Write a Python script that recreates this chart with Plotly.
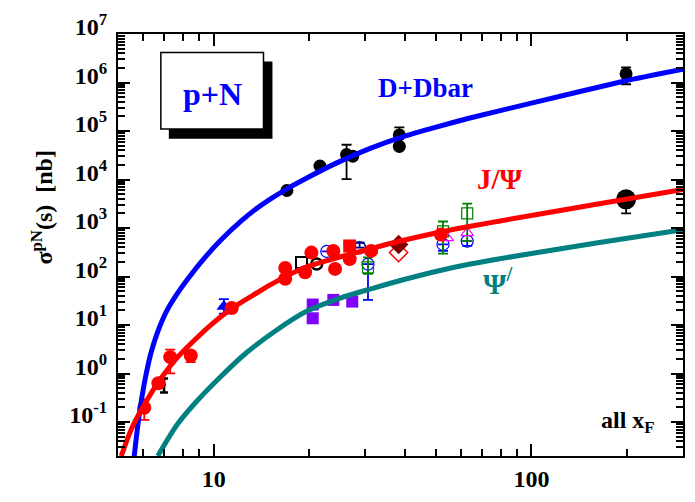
import plotly.graph_objects as go

# ---------------- model curves: sqrt(s) [GeV] vs sigma [nb] ----------------
dd_curve_s = [5.623, 5.788, 5.957, 6.131, 6.355, 6.683, 7.079, 7.608, 8.356, 9.306,
              10.52, 12.14, 13.53, 15.07, 16.91, 19.11, 24.41, 30.95, 39.25, 50.12,
              63.55, 100.0, 196.6, 300.0]
dd_curve_sig = [0.0196, 0.1, 0.351, 0.977, 2.718, 7.564, 18.31, 40.37, 95.45, 231.0,
                559.2, 1353, 2420, 3945, 6281, 9770, 22040, 43290, 75640, 120400,
                183000, 376500, 1.072e6, 1.874e6]

jpsi_curve_s = [5.12, 5.51, 6.05, 6.83, 7.70, 8.68, 9.79, 11.44, 13.70, 15.07, 19.1,
                24.4, 30.9, 38.4, 50.0, 63.6, 78.8, 161.8, 300.0]
jpsi_curve_sig = [0.02, 0.0723, 0.231, 0.80, 2.18, 4.82, 10.0, 22.4, 46.4, 67.3, 148,
                  242, 368, 533, 792, 1072, 1383, 3126, 6280]

psi2_curve_s = [6.67, 7.70, 8.89, 10.5, 12.6, 15.8, 19.6, 24.9, 31.7, 40.3, 51.2,
                63.6, 78.8, 161.8, 300.0]
psi2_curve_sig = [0.02, 0.091, 0.278, 0.85, 2.59, 7.92, 19.2, 35.6, 57.3, 89.0, 132,
                  179, 231, 498, 925]

# ---------------- data ----------------
# open charm (D + Dbar)
dd_s = [17.0, 21.6, 26.2, 27.4, 38.4, 38.4, 198.6]
dd_sig = [5940, 19000, 32700, 30300, 83000, 48200, 1.51e6]
dd_up = [0, 0, 19400, 0, 36000, 0, 5.5e5]
dd_dn = [0, 0, 22460, 0, 0, 0, 5.9e5]

# J/Psi, filled red circles
jp_s = [6.05, 6.70, 7.30, 8.47, 11.4, 16.8, 16.8, 19.4, 20.3, 23.8, 24.1, 26.8, 31.3, 51.9]
jp_sig = [0.198, 0.634, 2.18, 2.36, 22.4, 151, 90, 123, 312, 338, 144, 229, 338, 733]
jp_up = [0.096, 0, 0.95, 0, 0, 0, 0, 0, 0, 0, 0, 0, 0, 0]
jp_dn = [0.087, 0, 1.17, 0.63, 0, 0, 0, 0, 0, 0, 0, 0, 0, 0]

# J/Psi, filled red square
jpsq_s = [26.8]
jpsq_sig = [427]

# J/Psi, black points
jpb_s = [198.6]
jpb_sig = [3900]
jpb_dn = [1890]
jpbsq_s = [18.9]
jpbsq_sig = [196]
jpbc_s = [21.1]
jpbc_sig = [181]
jpbe_s = [6.98]
jpbe_sig = [0.586]
jpbe_up = [0.21]
jpbe_dn = [0.18]

# J/Psi, blue filled triangle
jptri_s = [10.77]
jptri_sig = [24.2]
jptri_up = [10]
jptri_dn = [7]

# J/Psi, open blue circles
jpoc_s = [22.7, 30.6, 52.7, 62.8]
jpoc_sig = [330, 181, 460, 538]
jpoc_up = [0, 0, 0, 0]
jpoc_dn = [0, 148, 122, 111]

# J/Psi, navy open circle
jpnv_s = [28.8]
jpnv_sig = [394]
jpnv_up = [104]

# J/Psi, open green squares
jpgs_s = [30.6, 52.7, 62.8]
jpgs_sig = [155, 857, 2010]
jpgs_up = [93, 507, 1190]
jpgs_dn = [41, 559, 1472]

# J/Psi, open magenta triangles
jpmt_s = [54.3, 62.8]
jpmt_sig = [628, 792]

# J/Psi, diamonds
jpdm_s = [38.2]
jpdm_sig = [460]
jpdo_s = [38.2]
jpdo_sig = [312]

# Psi', filled purple squares
psi_s = [20.5, 20.5, 23.8, 27.3]
psi_sig = [26.5, 13.8, 33.0, 30.5]

# axis ticks
x_major = [10, 100]
x_major_text = ["10", "100"]
x_minor = [6, 7, 8, 9, 20, 30, 40, 50, 60, 70, 80, 90, 200]
y_major = [10.0 ** k for k in range(-1, 8)]
y_major_text = ["10<sup>%d</sup>" % k for k in range(-1, 8)]
y_minor = [m * 10.0 ** k for k in range(-2, 7) for m in range(2, 10)]

SERIF = "Liberation Serif"

fig = go.Figure()


def errs(up, dn, color, width=5, thick=1.8):
    return dict(type="data", symmetric=False, array=up, arrayminus=dn,
                color=color, width=width, thickness=thick)


fig.add_trace(go.Scatter(x=psi_s, y=psi_sig, mode="markers",
                         marker=dict(symbol="square", size=12, color="#8000ff")))
fig.add_trace(go.Scatter(x=dd_s, y=dd_sig, mode="markers",
                         marker=dict(symbol="circle", size=13, color="black"),
                         error_y=errs(dd_up, dd_dn, "black")))
fig.add_trace(go.Scatter(x=jpb_s, y=jpb_sig, mode="markers",
                         marker=dict(symbol="circle", size=20, color="black"),
                         error_y=errs([0], jpb_dn, "black")))
fig.add_trace(go.Scatter(x=jpbsq_s, y=jpbsq_sig, mode="markers",
                         marker=dict(symbol="square-open", size=11, color="black",
                                     line=dict(width=2))))
fig.add_trace(go.Scatter(x=jpbc_s, y=jpbc_sig, mode="markers",
                         marker=dict(symbol="circle-open", size=11, color="black",
                                     line=dict(width=2.5))))
fig.add_trace(go.Scatter(x=jpbe_s, y=jpbe_sig, mode="markers",
                         marker=dict(symbol="circle", size=4, color="black"),
                         error_y=errs(jpbe_up, jpbe_dn, "black", width=4, thick=2.5)))
fig.add_trace(go.Scatter(x=jpoc_s, y=jpoc_sig, mode="markers",
                         marker=dict(symbol="circle-open", size=12, color="blue",
                                     line=dict(width=1.2)),
                         error_y=errs(jpoc_up, jpoc_dn, "blue")))
fig.add_trace(go.Scatter(x=jpnv_s, y=jpnv_sig, mode="markers",
                         marker=dict(symbol="circle-open", size=12, color="#000080",
                                     line=dict(width=1.5)),
                         error_y=errs(jpnv_up, [0], "#000080")))
fig.add_trace(go.Scatter(x=jpgs_s, y=jpgs_sig, mode="markers",
                         marker=dict(symbol="square-open", size=11, color="green",
                                     line=dict(width=1.2)),
                         error_y=errs(jpgs_up, jpgs_dn, "green")))
fig.add_trace(go.Scatter(x=jpmt_s, y=jpmt_sig, mode="markers",
                         marker=dict(symbol="triangle-up-open", size=11, color="magenta",
                                     line=dict(width=1.2))))
fig.add_trace(go.Scatter(x=jpdo_s, y=jpdo_sig, mode="markers",
                         marker=dict(symbol="diamond-open", size=14, color="red",
                                     line=dict(width=1.5))))
fig.add_trace(go.Scatter(x=jpdm_s, y=jpdm_sig, mode="markers",
                         marker=dict(symbol="diamond", size=15, color="#800000")))
fig.add_trace(go.Scatter(x=jptri_s, y=jptri_sig, mode="markers",
                         marker=dict(symbol="triangle-up", size=13, color="blue"),
                         error_y=errs(jptri_up, jptri_dn, "blue")))
fig.add_trace(go.Scatter(x=jp_s, y=jp_sig, mode="markers",
                         marker=dict(symbol="circle", size=14, color="red"),
                         error_y=errs(jp_up, jp_dn, "red")))
fig.add_trace(go.Scatter(x=jpsq_s, y=jpsq_sig, mode="markers",
                         marker=dict(symbol="square", size=13, color="red")))

# model curves on top of the points
fig.add_trace(go.Scatter(x=dd_curve_s, y=dd_curve_sig, mode="lines",
                         line=dict(color="blue", width=5, shape="spline", smoothing=0.6)))
fig.add_trace(go.Scatter(x=jpsi_curve_s, y=jpsi_curve_sig, mode="lines",
                         line=dict(color="red", width=5, shape="spline", smoothing=0.8)))
fig.add_trace(go.Scatter(x=psi2_curve_s, y=psi2_curve_sig, mode="lines",
                         line=dict(color="#008080", width=5, shape="spline", smoothing=0.8)))

# plot area in pixels: x 118..685, y 32..463
L, R, T, B = 118, 685, 32, 463


def px(x):
    return (x - L) / (R - L)


def py(y):
    return (B - y) / (B - T)


tickfont = dict(family=SERIF, size=24, color="black", weight="bold")

fig.update_xaxes(type="log", range=[0.69897, 2.47712],
                 tickmode="array", tickvals=x_major, ticktext=x_major_text,
                 ticks="inside", ticklen=12, tickwidth=2, tickcolor="black",
                 showline=True, linewidth=2, linecolor="black", mirror="ticks",
                 showgrid=False, zeroline=False, tickfont=tickfont,
                 minor=dict(tickmode="array", tickvals=x_minor, ticks="inside",
                            ticklen=7, tickwidth=2, tickcolor="black", showgrid=False))
fig.update_yaxes(type="log", range=[-1.69897, 7],
                 tickmode="array", tickvals=y_major, ticktext=y_major_text,
                 ticks="inside", ticklen=12, tickwidth=2, tickcolor="black",
                 showline=True, linewidth=2, linecolor="black", mirror="ticks",
                 showgrid=False, zeroline=False, tickfont=tickfont,
                 ticklabelshift=-7, ticklabelstandoff=4,
                 minor=dict(tickmode="array", tickvals=y_minor, ticks="inside",
                            ticklen=7, tickwidth=1.5, tickcolor="black", showgrid=False))

# "p+N" framed label with drop shadow
fig.add_shape(type="rect", xref="paper", yref="paper",
              x0=px(169), x1=px(273), y0=py(139), y1=py(60),
              fillcolor="black", line=dict(width=0))
fig.add_shape(type="rect", xref="paper", yref="paper",
              x0=px(161), x1=px(264), y0=py(129), y1=py(51),
              fillcolor="white", line=dict(color="black", width=1.5))


def label(text, x, y, size, color, angle=0):
    fig.add_annotation(text=text, xref="paper", yref="paper", x=px(x), y=py(y),
                       xanchor="center", yanchor="middle", showarrow=False,
                       textangle=angle,
                       font=dict(family=SERIF, size=size, color=color, weight="bold"))


label("p+N", 213, 93, 32, "blue")
label("D+Dbar", 427, 87, 27, "blue")
label("J/\u03a8", 501, 180, 29, "red")
label("\u03a8<sup>/</sup>", 499, 284, 30, "#008080")
label("all x<sub>F</sub>", 630, 428, 24, "black")
label("\u03c3<sup>pN</sup>(s)  [nb]", 42, 209, 24, "black", angle=-90)

fig.update_layout(width=695, height=502, showlegend=False,
                  margin=dict(l=L, r=695 - R, t=T, b=502 - B),
                  paper_bgcolor="white", plot_bgcolor="white")

fig.write_html("out.html")
